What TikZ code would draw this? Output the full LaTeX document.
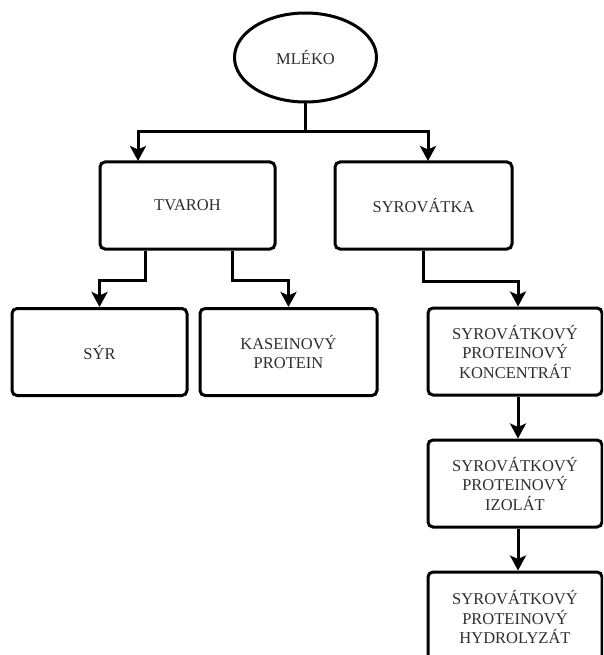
\documentclass[tikz,border=0pt]{standalone}
\usepackage{fontspec}
\setmainfont{Liberation Serif}
\usetikzlibrary{shapes.geometric,arrows.meta}
\definecolor{txt}{HTML}{2E2E2E}
\tikzset{
  box/.style={draw=black, line width=3pt, rounded corners=5pt, minimum width=175pt, minimum height=87pt,
    align=center, text=txt, font=\fontsize{16.5}{19.5}\selectfont, inner sep=2pt},
  arr/.style={line width=3pt, -{Stealth[length=15pt,width=16pt,inset=3.5pt]}},
  ln/.style={line width=3pt}
}
\begin{document}
\begin{tikzpicture}[x=1pt,y=-1pt]
\useasboundingbox (0,0) rectangle (603,655);
\begin{scope}
\clip (0,0) rectangle (603,655);
\node[ellipse, draw=black, line width=3pt, minimum width=142pt, minimum height=89pt, text=txt, font=\fontsize{16.5}{19.5}\selectfont] (milk) at (305.5,57.5) {MLÉKO};
\node[box] (tvaroh) at (187.5,205.5) {TVAROH};
\node[box, minimum width=177pt] (syrov) at (423.5,205.5) {SYROVÁTKA};
\node[box] (syr) at (99.5,352) {SÝR};
\node[box, minimum width=177pt] (kasein) at (288.5,352) {KASEINOVÝ\\PROTEIN};
\node[box, minimum width=174pt] (konc) at (515,351.5) {SYROVÁTKOVÝ\\PROTEINOVÝ\\KONCENTRÁT};
\node[box, minimum width=174pt] (izol) at (515,483.5) {SYROVÁTKOVÝ\\PROTEINOVÝ\\IZOLÁT};
\node[box, minimum width=174pt, minimum height=90pt] (hydr) at (515,617) {};
\node[align=center, text=txt, font=\fontsize{16.5}{19.5}\selectfont, anchor=north] (hydrtxt) at (515,587) {SYROVÁTKOVÝ\\PROTEINOVÝ\\HYDROLYZÁT};
\coordinate (jm) at (305.5,132);
\coordinate (tin) at (138,161);
\coordinate (sin) at (428,161);
\draw[arr] (milk.south) -- (jm) -| (tin);
\draw[arr] (milk.south) -- (jm) -| (sin);
\draw[arr] ([xshift=-42.5pt]tvaroh.south) -- ++(0,30) -| (syr.north);
\draw[arr] ([xshift=44.5pt]tvaroh.south) -- ++(0,30) -| (kasein.north);
\draw[arr] (syrov.south) -- ++(0,31) -| ([xshift=3pt]konc.north);
\draw[arr] ([xshift=3pt]konc.south) -- ([xshift=3pt]izol.north);
\draw[arr] ([xshift=3pt]izol.south) -- ([xshift=3pt]hydr.north);
\end{scope}
\end{tikzpicture}
\end{document}
